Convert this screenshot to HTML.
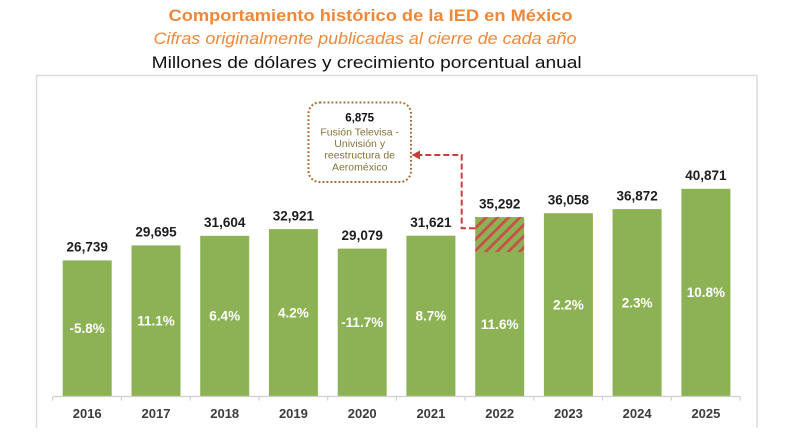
<!DOCTYPE html>
<html><head><meta charset="utf-8"><style>
html,body{margin:0;padding:0;background:#fff;}
svg{display:block;}
</style></head><body>
<svg width="800" height="433" viewBox="0 0 800 433" xmlns="http://www.w3.org/2000/svg">
<defs>
<pattern id="hatch" patternUnits="userSpaceOnUse" width="8" height="8" patternTransform="rotate(45)">
<rect width="8" height="8" fill="#8db255"/>
<rect x="0" y="0" width="2.8" height="8" fill="#c8504a"/>
</pattern>
</defs>
<text x="370.5" y="21" font-family="Liberation Sans, sans-serif" font-weight="bold" font-size="17" fill="#f0883a" text-anchor="middle" textLength="404" lengthAdjust="spacingAndGlyphs">Comportamiento histórico de la IED en México</text>
<text x="365" y="44" font-family="Liberation Sans, sans-serif" font-style="italic" font-size="16.5" fill="#f0883a" text-anchor="middle" textLength="423" lengthAdjust="spacingAndGlyphs">Cifras originalmente publicadas al cierre de cada año</text>
<text x="366.7" y="68" font-family="Liberation Sans, sans-serif" font-size="17" fill="#111" text-anchor="middle" textLength="430" lengthAdjust="spacingAndGlyphs">Millones de dólares y crecimiento porcentual anual</text>
<path d="M36.5 428 V75.5 H757 V428" fill="none" stroke="#dcdcdc" stroke-width="1.5"/>
<g fill="#8db255">
<rect x="62.7" y="260.4" width="49" height="135.6"/>
<rect x="131.5" y="245.4" width="49" height="150.6"/>
<rect x="200.2" y="235.8" width="49" height="160.2"/>
<rect x="268.9" y="229.1" width="49" height="166.9"/>
<rect x="337.7" y="248.6" width="49" height="147.4"/>
<rect x="406.4" y="235.7" width="49" height="160.3"/>
<rect x="475.2" y="252" width="49" height="144"/>
<rect x="543.9" y="213.2" width="49" height="182.8"/>
<rect x="612.6" y="209.1" width="49" height="186.9"/>
<rect x="681.4" y="188.8" width="49" height="207.2"/>
</g>
<rect x="475.2" y="217.1" width="49" height="34.9" fill="url(#hatch)"/>
<g stroke="#d0d0d0" stroke-width="1.2" fill="none">
<path d="M52.7 396.5 H740.1"/>
<path d="M52.7 396.5 V400.5 M121.4 396.5 V400.5 M190.2 396.5 V400.5 M258.9 396.5 V400.5 M327.7 396.5 V400.5 M396.4 396.5 V400.5 M465.1 396.5 V400.5 M533.9 396.5 V400.5 M602.6 396.5 V400.5 M671.4 396.5 V400.5 M740.1 396.5 V400.5"/>
</g>
<g font-family="Liberation Sans, sans-serif" font-weight="bold" font-size="13.5" fill="#1e1e1e" text-anchor="middle">
<text x="87.2" y="251.6">26,739</text>
<text x="156" y="236.6">29,695</text>
<text x="224.7" y="227">31,604</text>
<text x="293.4" y="220.3">32,921</text>
<text x="362.2" y="239.8">29,079</text>
<text x="430.9" y="226.9">31,621</text>
<text x="499.7" y="208.3">35,292</text>
<text x="568.4" y="204.4">36,058</text>
<text x="637.1" y="200.3">36,872</text>
<text x="705.9" y="180">40,871</text>
</g>
<g font-family="Liberation Sans, sans-serif" font-weight="bold" font-size="13.5" fill="#ffffff" text-anchor="middle">
<text x="87.2" y="333">-5.8%</text>
<text x="156" y="325.5">11.1%</text>
<text x="224.7" y="320.7">6.4%</text>
<text x="293.4" y="317.4">4.2%</text>
<text x="362.2" y="327.1">-11.7%</text>
<text x="430.9" y="320.7">8.7%</text>
<text x="499.7" y="328.8">11.6%</text>
<text x="568.4" y="309.4">2.2%</text>
<text x="637.1" y="307.4">2.3%</text>
<text x="705.9" y="297.2">10.8%</text>
</g>
<g font-family="Liberation Sans, sans-serif" font-weight="bold" font-size="13" fill="#3c3c3c" text-anchor="middle">
<text x="87.2" y="418">2016</text>
<text x="156" y="418">2017</text>
<text x="224.7" y="418">2018</text>
<text x="293.4" y="418">2019</text>
<text x="362.2" y="418">2020</text>
<text x="430.9" y="418">2021</text>
<text x="499.7" y="418">2022</text>
<text x="568.4" y="418">2023</text>
<text x="637.1" y="418">2024</text>
<text x="705.9" y="418">2025</text>
</g>
<path d="M475 228.3 H461.7 V155 H419" fill="none" stroke="#c8403c" stroke-width="2" stroke-dasharray="6 3"/>
<path d="M411.5 155 L420 150.5 L420 159.5 Z" fill="#c8403c"/>
<rect x="308.5" y="102.5" width="102.5" height="79.5" rx="11" ry="11" fill="#fff" stroke="#a8672e" stroke-width="2" stroke-dasharray="1.8 2.2"/>
<text x="359.7" y="121.5" font-family="Liberation Sans, sans-serif" font-weight="bold" font-size="11.5" fill="#111" text-anchor="middle">6,875</text>
<g font-family="Liberation Sans, sans-serif" font-size="10.5" fill="#857338" text-anchor="middle">
<text x="359.7" y="135.3">Fusión Televisa -</text>
<text x="359.7" y="147">Univisión  y</text>
<text x="359.7" y="158.7">reestructura  de</text>
<text x="359.7" y="170.4">Aeroméxico</text>
</g>
</svg>
</body></html>
